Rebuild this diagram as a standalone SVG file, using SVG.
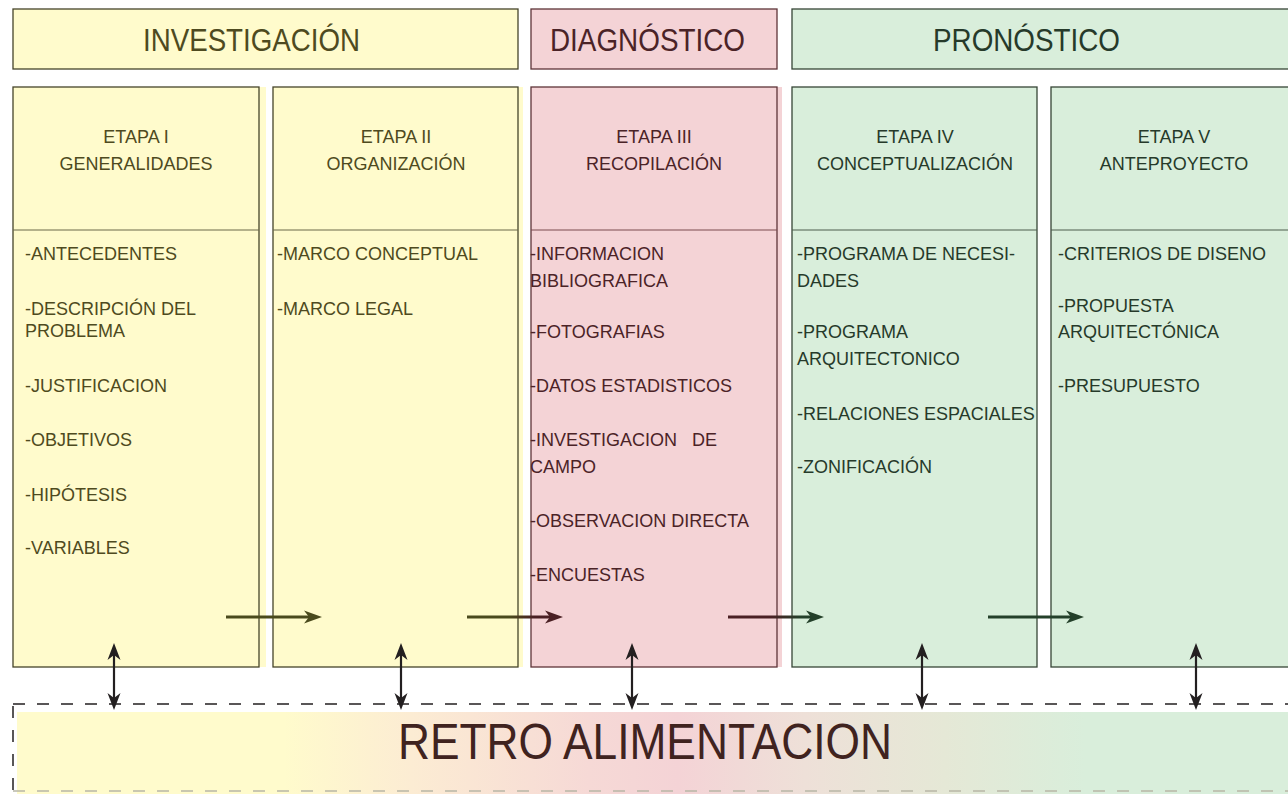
<svg xmlns="http://www.w3.org/2000/svg" width="1288" height="794" viewBox="0 0 1288 794">
<defs>
<style>
text{font-family:"Liberation Sans",Arial,sans-serif}
.hd{font-size:31px}
.et{font-size:18px;text-anchor:middle}
.it{font-size:18px}
.y-fill{fill:#fffbcc}
.p-fill{fill:#f4d3d6}
.g-fill{fill:#d9eedb}
.y-box{fill:#fffbcc;stroke:#46442a;stroke-width:1.3}
.p-box{fill:#f4d3d6;stroke:#5e3438;stroke-width:1.3}
.g-box{fill:#d9eedb;stroke:#364536;stroke-width:1.3}
.y-div{stroke:#6b6848;stroke-width:1}
.p-div{stroke:#7a4a4e;stroke-width:1}
.g-div{stroke:#4c5c4c;stroke-width:1}
.y-t{fill:#4e4a20}
.p-t{fill:#4b2327}
.g-t{fill:#263a2a}
.harr{stroke-width:3;fill:none}
.varr{stroke:#231f20;stroke-width:2.2;fill:none;marker-start:url(#vh);marker-end:url(#vh)}
.dash{fill:none;stroke:#231f20;stroke-width:1.5;stroke-dasharray:12 12}
</style>
<marker id="ho" markerUnits="userSpaceOnUse" markerWidth="19" markerHeight="15" refX="5" refY="7.5" orient="auto"><path d="M0,1 L18,7.5 L0,14 L5,7.5 Z" fill="#4a4a1c"/></marker>
<marker id="hp" markerUnits="userSpaceOnUse" markerWidth="19" markerHeight="15" refX="5" refY="7.5" orient="auto"><path d="M0,1 L18,7.5 L0,14 L5,7.5 Z" fill="#4a2024"/></marker>
<marker id="hg" markerUnits="userSpaceOnUse" markerWidth="19" markerHeight="15" refX="5" refY="7.5" orient="auto"><path d="M0,1 L18,7.5 L0,14 L5,7.5 Z" fill="#24402a"/></marker>
<marker id="vh" markerUnits="userSpaceOnUse" markerWidth="18" markerHeight="14" refX="5" refY="7" orient="auto-start-reverse"><path d="M0,0.5 L17,7 L0,13.5 L5,7 Z" fill="#231f20"/></marker>
<linearGradient id="a1" gradientUnits="userSpaceOnUse" x1="226" y1="0" x2="322" y2="0"><stop offset="0" stop-color="#4a4a1c"/><stop offset="1" stop-color="#4a4a1c"/></linearGradient>
<linearGradient id="a2" gradientUnits="userSpaceOnUse" x1="467" y1="0" x2="563" y2="0"><stop offset="0.45" stop-color="#4a4a1c"/><stop offset="0.7" stop-color="#4a2024"/></linearGradient>
<linearGradient id="a3" gradientUnits="userSpaceOnUse" x1="728" y1="0" x2="824" y2="0"><stop offset="0.45" stop-color="#4a2024"/><stop offset="0.75" stop-color="#24402a"/></linearGradient>
<linearGradient id="a4" gradientUnits="userSpaceOnUse" x1="988" y1="0" x2="1084" y2="0"><stop offset="0" stop-color="#24402a"/><stop offset="1" stop-color="#24402a"/></linearGradient>
<linearGradient id="rg" gradientUnits="userSpaceOnUse" x1="17" y1="0" x2="1288" y2="0">
<stop offset="0" stop-color="#fffbcc"/>
<stop offset="0.21" stop-color="#fffbcc"/>
<stop offset="0.31" stop-color="#fcecd3"/>
<stop offset="0.45" stop-color="#f6d9d6"/>
<stop offset="0.52" stop-color="#f4d3d6"/>
<stop offset="0.62" stop-color="#eee0d8"/>
<stop offset="0.73" stop-color="#e5e8d6"/>
<stop offset="0.84" stop-color="#d9eedb"/>
<stop offset="1" stop-color="#d9eedb"/>
</linearGradient>
</defs>

<g id="header-investigacion">
<rect class="y-box" x="13" y="9" width="505" height="60"/>
<text class="hd y-t" x="143" y="51" textLength="217" lengthAdjust="spacingAndGlyphs">INVESTIGACIÓN</text>
</g>
<g id="header-diagnostico">
<rect class="p-box" x="531" y="9" width="246" height="60"/>
<text class="hd p-t" x="550" y="51" textLength="195" lengthAdjust="spacingAndGlyphs">DIAGNÓSTICO</text>
</g>
<g id="header-pronostico">
<rect class="g-box" x="792" y="9" width="505" height="60"/>
<text class="hd g-t" x="933" y="51" textLength="187" lengthAdjust="spacingAndGlyphs">PRONÓSTICO</text>
</g>

<g id="etapa-1">
<rect class="y-fill" x="13" y="87" width="253" height="580"/>
<rect class="y-box" x="13" y="87" width="246" height="580"/>
<line class="y-div" x1="13" y1="230" x2="259" y2="230"/>
<text class="et y-t" x="136" y="143">ETAPA I</text>
<text class="et y-t" x="136" y="170">GENERALIDADES</text>
<text class="it y-t" x="25" y="260">-ANTECEDENTES</text>
<text class="it y-t" x="25" y="315">-DESCRIPCIÓN DEL</text>
<text class="it y-t" x="25" y="337">PROBLEMA</text>
<text class="it y-t" x="25" y="392">-JUSTIFICACION</text>
<text class="it y-t" x="25" y="446">-OBJETIVOS</text>
<text class="it y-t" x="25" y="501">-HIPÓTESIS</text>
<text class="it y-t" x="25" y="554">-VARIABLES</text>
</g>

<g id="etapa-2">
<rect class="y-fill" x="273" y="87" width="250" height="580"/>
<rect class="y-box" x="273" y="87" width="245" height="580"/>
<line class="y-div" x1="273" y1="230" x2="518" y2="230"/>
<text class="et y-t" x="396" y="143">ETAPA II</text>
<text class="et y-t" x="396" y="170">ORGANIZACIÓN</text>
<text class="it y-t" x="277" y="260">-MARCO CONCEPTUAL</text>
<text class="it y-t" x="277" y="315">-MARCO LEGAL</text>
</g>

<g id="etapa-3">
<rect class="p-fill" x="531" y="87" width="251" height="580"/>
<rect class="p-box" x="531" y="87" width="246" height="580"/>
<line class="p-div" x1="531" y1="230" x2="777" y2="230"/>
<text class="et p-t" x="654" y="143">ETAPA III</text>
<text class="et p-t" x="654" y="170">RECOPILACIÓN</text>
<text class="it p-t" x="530" y="260">-INFORMACION</text>
<text class="it p-t" x="530" y="287">BIBLIOGRAFICA</text>
<text class="it p-t" x="530" y="338">-FOTOGRAFIAS</text>
<text class="it p-t" x="530" y="392">-DATOS ESTADISTICOS</text>
<text class="it p-t" x="530" y="446" xml:space="preserve">-INVESTIGACION   DE</text>
<text class="it p-t" x="530" y="473">CAMPO</text>
<text class="it p-t" x="530" y="527">-OBSERVACION DIRECTA</text>
<text class="it p-t" x="530" y="581">-ENCUESTAS</text>
</g>

<g id="etapa-4">
<rect class="g-box" x="792" y="87" width="245" height="580"/>
<line class="g-div" x1="792" y1="230" x2="1037" y2="230"/>
<text class="et g-t" x="915" y="143">ETAPA IV</text>
<text class="et g-t" x="915" y="170">CONCEPTUALIZACIÓN</text>
<text class="it g-t" x="797" y="260">-PROGRAMA DE NECESI-</text>
<text class="it g-t" x="797" y="287">DADES</text>
<text class="it g-t" x="797" y="338">-PROGRAMA</text>
<text class="it g-t" x="797" y="365">ARQUITECTONICO</text>
<text class="it g-t" x="797" y="420">-RELACIONES ESPACIALES</text>
<text class="it g-t" x="797" y="473">-ZONIFICACIÓN</text>
</g>

<g id="etapa-5">
<rect class="g-box" x="1051" y="87" width="246" height="580"/>
<line class="g-div" x1="1051" y1="230" x2="1297" y2="230"/>
<text class="et g-t" x="1174" y="143">ETAPA V</text>
<text class="et g-t" x="1174" y="170">ANTEPROYECTO</text>
<text class="it g-t" x="1058" y="260">-CRITERIOS DE DISENO</text>
<text class="it g-t" x="1058" y="312">-PROPUESTA</text>
<text class="it g-t" x="1058" y="338">ARQUITECTÓNICA</text>
<text class="it g-t" x="1058" y="392">-PRESUPUESTO</text>
</g>

<g id="retroalimentacion">
<rect class="dash" x="13" y="704" width="1300" height="87"/>
<rect x="17" y="712" width="1280" height="90" fill="url(#rg)"/>
<line x1="13" y1="791" x2="1300" y2="791" stroke="#b8b6a6" stroke-width="1.4" stroke-dasharray="12 12"/>
<text x="398" y="759" font-size="50" fill="#40231f" textLength="494" lengthAdjust="spacingAndGlyphs">RETRO ALIMENTACION</text>
</g>

<g id="connectors">
<line class="harr" x1="226" y1="617" x2="309" y2="617" stroke="url(#a1)" marker-end="url(#ho)"/>
<line class="harr" x1="467" y1="617" x2="550" y2="617" stroke="url(#a2)" marker-end="url(#hp)"/>
<line class="harr" x1="728" y1="617" x2="811" y2="617" stroke="url(#a3)" marker-end="url(#hg)"/>
<line class="harr" x1="988" y1="617" x2="1071" y2="617" stroke="url(#a4)" marker-end="url(#hg)"/>
<line class="varr" x1="114" y1="655" x2="114" y2="698"/>
<line class="varr" x1="401" y1="655" x2="401" y2="698"/>
<line class="varr" x1="632" y1="655" x2="632" y2="698"/>
<line class="varr" x1="922" y1="655" x2="922" y2="698"/>
<line class="varr" x1="1196" y1="655" x2="1196" y2="698"/>
</g>
</svg>
